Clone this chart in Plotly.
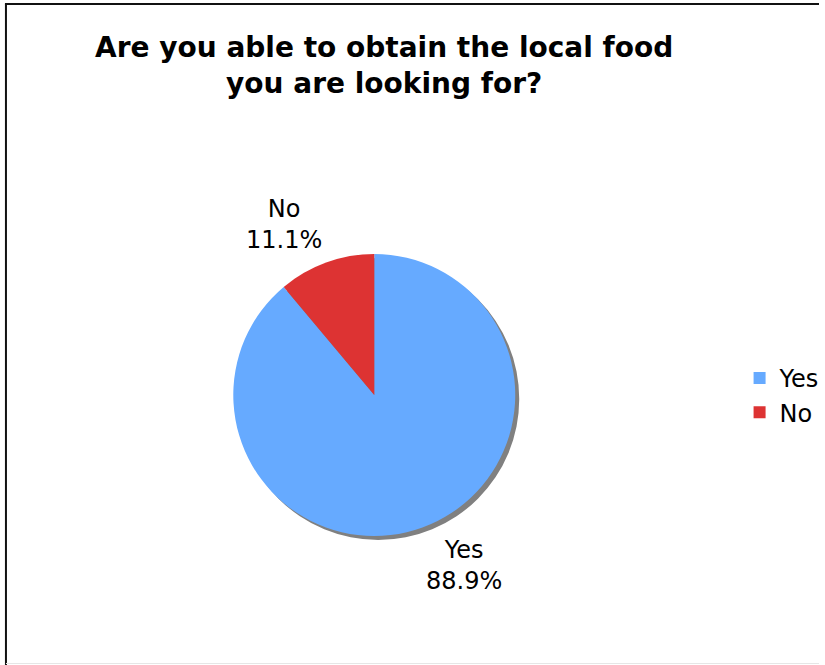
import math
import plotly.graph_objects as go

# Survey answers and their shares (percent)
answers = ["Yes", "No"]
shares = [88.9, 11.1]
slice_colors = ["#66aaff", "#dd3333"]

title_text = "Are you able to obtain the local food<br>you are looking for?"

W, H = 825, 665
cx, cy, r = 377, 395, 142
shadow_dx, shadow_dy = 4, 4
label_gap = 6


def dom(x0, y0, rad):
    return dict(
        x=[(x0 - rad) / W, (x0 + rad) / W],
        y=[1 - (y0 + rad) / H, 1 - (y0 - rad) / H],
    )


fig = go.Figure()

# drop shadow: a plain grey disc offset down-right behind the pie
fig.add_trace(go.Pie(
    values=[sum(shares)],
    labels=["shadow"],
    marker=dict(colors=["#808080"], line=dict(width=0)),
    textinfo="none",
    hoverinfo="skip",
    showlegend=False,
    sort=False,
    domain=dom(cx + shadow_dx, cy + shadow_dy, r),
))

fig.add_trace(go.Pie(
    labels=answers,
    values=shares,
    marker=dict(colors=slice_colors, line=dict(width=0)),
    sort=False,
    direction="clockwise",
    rotation=0,
    textinfo="none",
    showlegend=True,
    domain=dom(cx, cy, r),
))

# outside slice labels: the nearest corner of each label box sits just
# outside the rim, along the slice's mid-angle (clockwise from 12 o'clock)
annotations = []
total = sum(shares)
start = 0.0
for name, val in zip(answers, shares):
    span = 360.0 * val / total
    mid = math.radians(start + span / 2)
    start += span
    px = cx + (r + label_gap) * math.sin(mid)
    py = cy - (r + label_gap) * math.cos(mid)
    annotations.append(dict(
        text=f"{name}<br>{val:.1f}%",
        xref="paper", yref="paper",
        x=px / W, y=1 - py / H,
        xanchor="left" if math.sin(mid) >= 0 else "right",
        yanchor="bottom" if math.cos(mid) >= 0 else "top",
        align="center",
        showarrow=False,
        font=dict(size=24, family="DejaVu Sans", color="#000000"),
    ))

annotations.append(dict(
    text="<b>" + title_text + "</b>",
    xref="paper", yref="paper",
    x=387 / W, y=1 - 65 / H,
    xanchor="center", yanchor="middle",
    showarrow=False,
    font=dict(size=28, family="DejaVu Sans", color="#000000"),
))

fig.update_layout(
    width=W,
    height=H,
    margin=dict(l=0, r=0, t=0, b=0),
    paper_bgcolor="white",
    plot_bgcolor="white",
    font=dict(family="DejaVu Sans", size=24, color="#000000"),
    annotations=annotations,
    legend=dict(
        x=745 / W,
        y=1 - 356 / H,
        xanchor="left",
        yanchor="top",
        font=dict(size=24, family="DejaVu Sans"),
        bgcolor="rgba(0,0,0,0)",
        traceorder="normal",
    ),
    shapes=[
        dict(type="line", xref="paper", yref="paper",
             x0=6 / W, x1=6 / W, y0=1 - 4 / H, y1=0,
             line=dict(color="#111111", width=2)),
        dict(type="line", xref="paper", yref="paper",
             x0=5 / W, x1=1, y0=1 - 4 / H, y1=1 - 4 / H,
             line=dict(color="#111111", width=2)),
        dict(type="line", xref="paper", yref="paper",
             x0=6 / W, x1=1, y0=1 - 663.5 / H, y1=1 - 663.5 / H,
             line=dict(color="#e6e6e6", width=1)),
    ],
)

fig.write_html("out.html")
